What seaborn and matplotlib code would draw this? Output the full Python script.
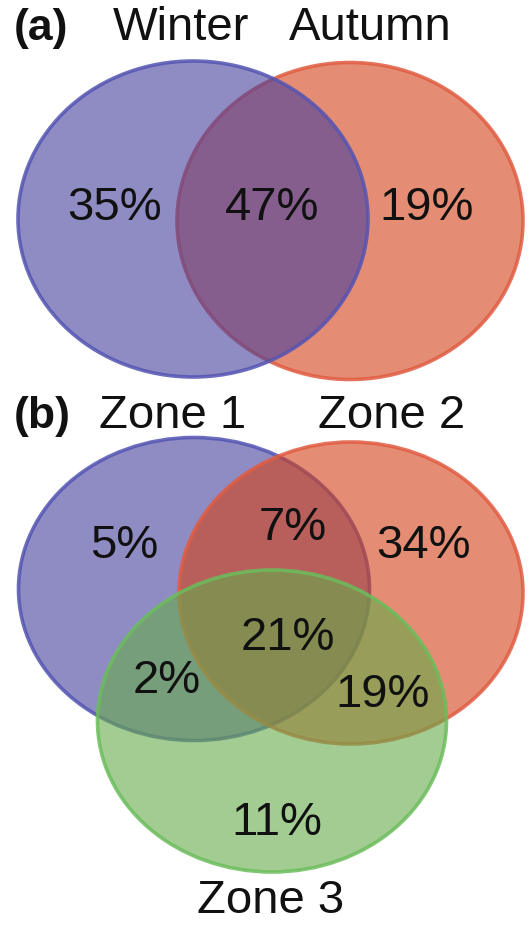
import matplotlib
matplotlib.use("Agg")
import matplotlib.pyplot as plt
from matplotlib.patches import Ellipse
import seaborn as sns

sns.set_theme(style="white")
plt.rcParams["font.family"] = ["Liberation Sans", "DejaVu Sans"]

# Panel (a): seasons
season_sets = ["Winter", "Autumn"]
season_regions = ["Winter only", "Both", "Autumn only"]
season_pct = [35, 47, 19]

# Panel (b): zones
zone_sets = ["Zone 1", "Zone 2", "Zone 3"]
zone_regions = ["1 only", "1&2", "2 only", "1&2&3", "1&3", "2&3", "3 only"]
zone_pct = [5, 7, 34, 21, 2, 19, 11]

blue_face, blue_edge = (0.27, 0.25, 0.62), (0.33, 0.33, 0.70)
red_face, red_edge = (0.83, 0.26, 0.09), (0.88, 0.36, 0.26)
green_face, green_edge = (0.40, 0.67, 0.29), (0.42, 0.74, 0.36)

W, H = 529, 944
fig = plt.figure(figsize=(W / 100, H / 100), dpi=100)
ax = fig.add_axes([0, 0, 1, 1])
ax.set_xlim(0, W)
ax.set_ylim(H, 0)
ax.set_axis_off()


def blob(cx, cy, w, h, face, edge, z):
    ax.add_patch(Ellipse((cx, cy), w, h, facecolor=face, alpha=0.6,
                         edgecolor="none", zorder=z))
    ax.add_patch(Ellipse((cx, cy), w, h, facecolor="none", edgecolor=edge,
                         alpha=0.85, lw=2.6, zorder=z + 0.5))


# (a) Winter over Autumn
blob(350, 221, 346, 317, red_face, red_edge, 1)
blob(193, 219, 350, 316, blue_face, blue_edge, 2)

# (b) Zone 1, Zone 2, Zone 3
blob(194, 589, 351, 303, blue_face, blue_edge, 1)
blob(351, 593, 344, 302, red_face, red_edge, 2)
blob(272, 721, 349, 302, green_face, green_edge, 3)

fs = 34
txt = dict(fontsize=fs, color="#111111", ha="center", va="baseline", zorder=10)

# headings
ax.text(14, 40, "(a)", fontsize=32, fontweight="bold", ha="left", va="baseline", color="#111111")
ax.text(14, 428, "(b)", fontsize=32, fontweight="bold", ha="left", va="baseline", color="#111111")
for name, x in zip(season_sets, [181, 370]):
    ax.text(x, 40, name, **txt)
for name, (x, y) in zip(zone_sets, [(173, 428), (392, 428), (271, 913)]):
    ax.text(x, y, name, **txt)

# region percentages
for v, (x, y) in zip(season_pct, [(115, 220), (272, 220), (427, 220)]):
    ax.text(x, y, f"{v}%", **txt)
zone_xy = [(124, 558), (293, 540), (423, 558), (288, 650), (167, 693), (383, 707), (277, 835)]
for v, (x, y) in zip(zone_pct, zone_xy):
    ax.text(x, y, f"{v}%", **txt)

fig.savefig("out.png", dpi=100, facecolor="white")
